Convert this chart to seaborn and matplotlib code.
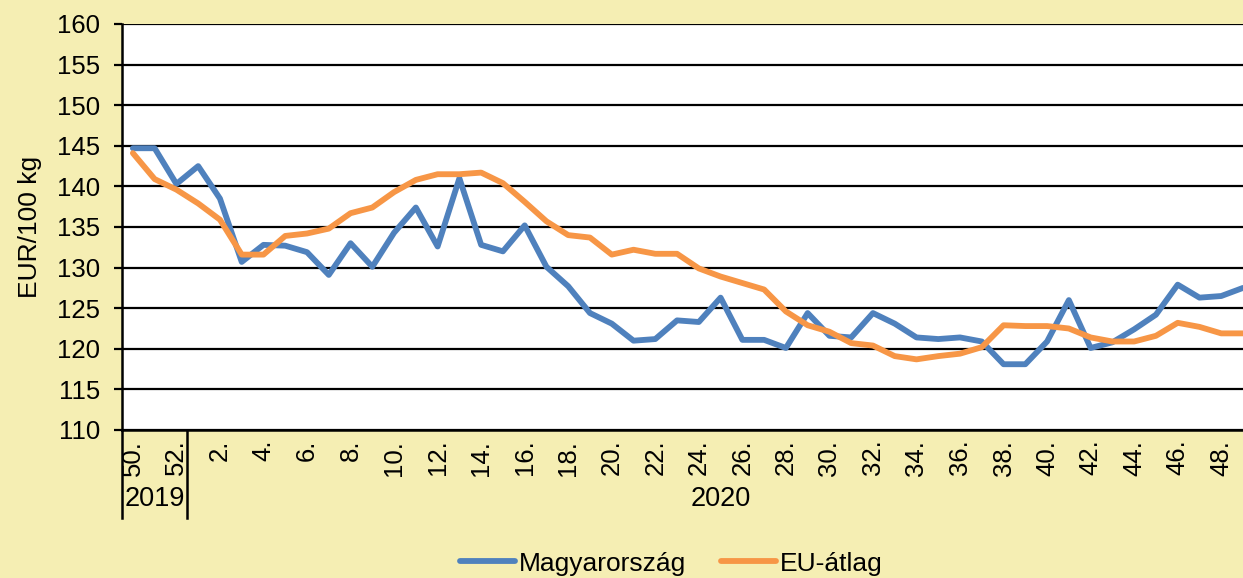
import seaborn as sns
import matplotlib.pyplot as plt
import matplotlib.transforms as mtransforms
from matplotlib.lines import Line2D
import pandas as pd

# heti adatok: 2019. 50. hét - 2020. 49. hét
weeks = [50, 51, 52, 1, 2, 3, 4, 5, 6, 7, 8, 9, 10, 11, 12, 13, 14, 15, 16, 17,
         18, 19, 20, 21, 22, 23, 24, 25, 26, 27, 28, 29, 30, 31, 32, 33, 34, 35,
         36, 37, 38, 39, 40, 41, 42, 43, 44, 45, 46, 47, 48, 49]
years = ['2019', '2020']

magyar = [144.7, 144.7, 140.3, 142.5, 138.5, 130.7, 132.8, 132.7, 131.9, 129.1,
          133.0, 130.1, 134.3, 137.4, 132.6, 141.0, 132.8, 132.0, 135.2, 130.1,
          127.7, 124.4, 123.1, 121.0, 121.2, 123.5, 123.3, 126.3, 121.1, 121.1,
          120.1, 124.4, 121.6, 121.4, 124.4, 123.1, 121.4, 121.2, 121.4, 120.9,
          118.1, 118.1, 120.9, 126.0, 120.1, 120.8, 122.4, 124.2, 127.9, 126.3,
          126.5, 127.5]
eu_atlag = [144.1, 140.9, 139.6, 137.9, 135.9, 131.6, 131.6, 133.9, 134.2, 134.8,
            136.7, 137.4, 139.3, 140.8, 141.5, 141.5, 141.7, 140.4, 138.1, 135.7,
            134.0, 133.7, 131.6, 132.2, 131.7, 131.7, 129.9, 128.9, 128.1, 127.3,
            124.6, 122.9, 122.1, 120.7, 120.4, 119.1, 118.7, 119.1, 119.4, 120.2,
            122.9, 122.8, 122.8, 122.5, 121.4, 120.9, 120.9, 121.6, 123.2, 122.7,
            121.9, 121.9]

bg = '#F5EEB3'
blue = '#4F81BD'
orange = '#F79646'

df = pd.DataFrame({
    'idx': list(range(len(weeks))) * 2,
    'ertek': magyar + eu_atlag,
    'sorozat': ['Magyarország'] * len(weeks) + ['EU-átlag'] * len(weeks),
})

plt.rcParams['font.family'] = ['Liberation Sans', 'DejaVu Sans']

fig = plt.figure(figsize=(12.43, 5.78), dpi=100, facecolor=bg)
ax = fig.add_axes([122 / 1243, 1 - 430 / 578, 1121 / 1243, 406 / 578])
ax.set_facecolor('white')

sns.lineplot(data=df, x='idx', y='ertek', hue='sorozat',
             palette={'Magyarország': blue, 'EU-átlag': orange},
             linewidth=4.2, ax=ax, legend=False, zorder=3)
for ln in ax.lines:
    ln.set_solid_capstyle('round')
    ln.set_solid_joinstyle('round')

ax.set_xlim(-0.5, 51.0)
ax.set_ylim(110, 160)
ax.set_yticks(range(110, 161, 5))
ax.yaxis.grid(True, color='black', linewidth=1.6)
ax.set_axisbelow(True)
ax.tick_params(axis='y', labelsize=18.5, length=6, width=1.6, pad=10, color='black')

xt = list(range(0, len(weeks), 2))
ax.set_xticks(xt)
ax.set_xticklabels([f'{weeks[i]}.' for i in xt], rotation=90)
ax.tick_params(axis='x', labelsize=18.5, length=0, pad=7)

for s in ['top', 'right']:
    ax.spines[s].set_visible(False)
for s in ['left', 'bottom']:
    ax.spines[s].set_color('black')
    ax.spines[s].set_linewidth(1.8)

ax.set_xlabel('')
ax.set_ylabel('EUR/100 kg', fontsize=19)
ax.yaxis.set_label_coords(-0.0714, 0.5)

# évek elválasztása az x tengely alatt
trans = mtransforms.blended_transform_factory(ax.transData, ax.transAxes)
for xv in [-0.5, 2.5]:
    ax.plot([xv, xv], [0, -0.217], transform=trans, color='black',
            linewidth=1.8, clip_on=False)
ax.text(1.0, -0.17, years[0], transform=trans, ha='center', va='center', fontsize=19.5)
ax.text(27.0, -0.17, years[1], transform=trans, ha='center', va='center', fontsize=19.5)

handles = [Line2D([], [], color=blue, linewidth=4.2, solid_capstyle='round'),
           Line2D([], [], color=orange, linewidth=4.2, solid_capstyle='round')]
fig.legend(handles, ['Magyarország', 'EU-átlag'], loc='center',
           bbox_to_anchor=(0.54, 0.025), ncol=2, frameon=False, fontsize=19,
           handlelength=2.1, handletextpad=0.15, columnspacing=1.3)

fig.savefig('out.png', dpi=100, facecolor=bg)
